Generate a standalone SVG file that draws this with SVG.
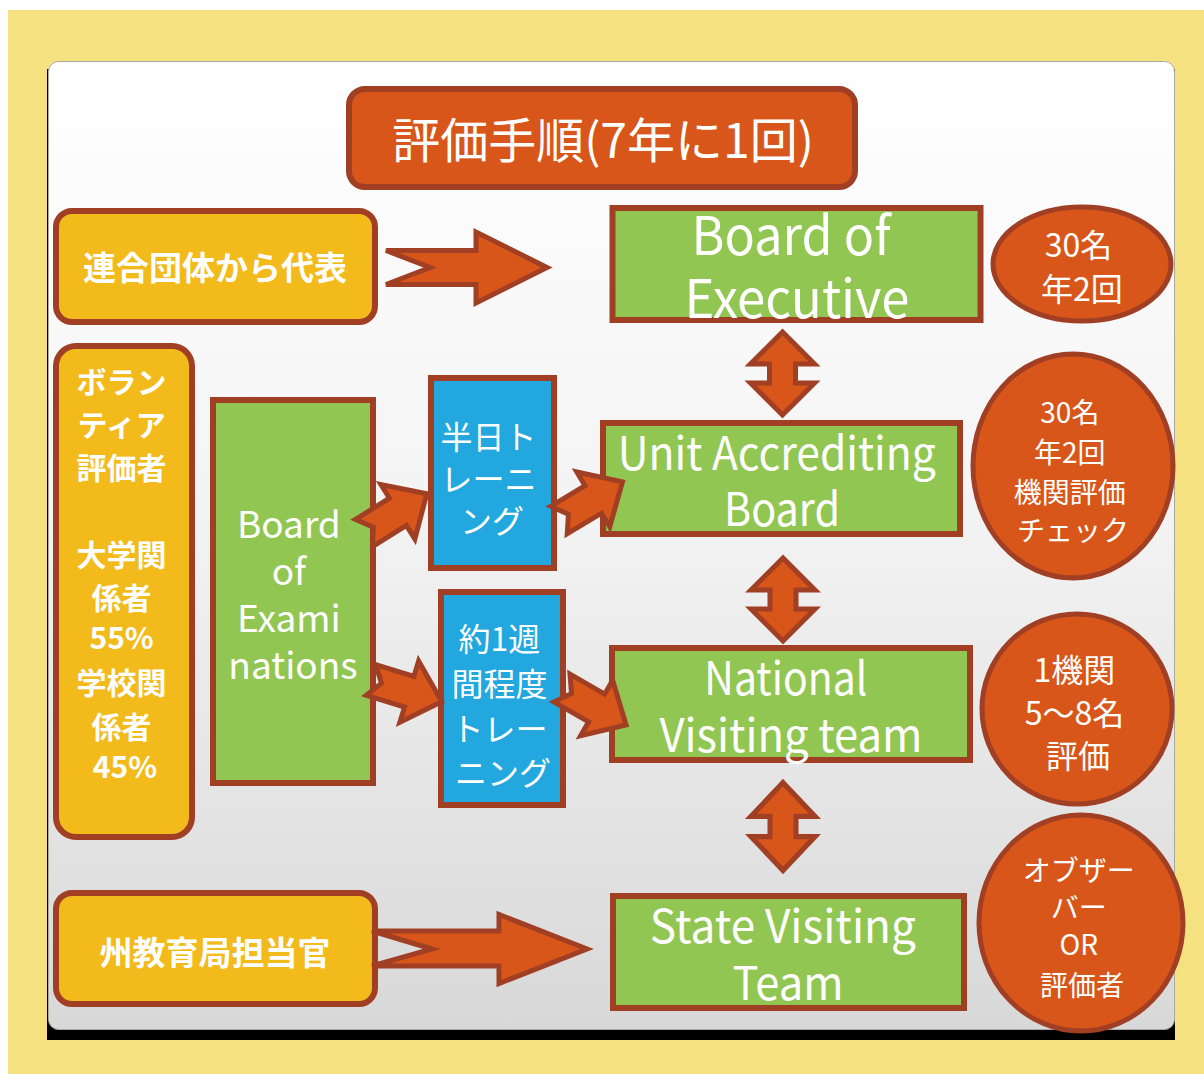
<svg xmlns="http://www.w3.org/2000/svg" width="1204" height="1074" viewBox="0 0 1204 1074">
  <defs>
    <linearGradient id="cardFill" x1="0" y1="0" x2="0" y2="1">
      <stop offset="0" stop-color="#ffffff"/>
      <stop offset="0.45" stop-color="#f4f4f4"/>
      <stop offset="1" stop-color="#d8d8d8"/>
    </linearGradient>
    <!-- notched block arrow pointing along +x, tail at x=0 -->
    <path id="notchSmall" d="M0,-16 L40,-16 L40,-32 L74,0 L40,32 L40,16 L0,16 L11,0 Z"/>
    <!-- vertical double-headed arrow centred on the origin -->
    <path id="dblArrow" d="M0,-41.5 L32,-9.5 L13,-9.5 L13,9.5 L32,9.5 L0,41.5 L-32,9.5 L-13,9.5 L-13,-9.5 L-32,-9.5 Z"/>
  </defs>
  <style>
    text { font-family: "Noto Sans CJK JP", "Noto Sans", sans-serif; fill: #ffffff; text-anchor: middle; }
    .title { font-size: 48px; }
    .bold { font-weight: 700; }
    .orange { fill: #D9561A; stroke: #A13F24; stroke-width: 6; }
    .yellow { fill: #F3BA1B; stroke: #A13F24; stroke-width: 6; }
    .green { fill: #92C653; stroke: #A13F24; stroke-width: 6; }
    .blue { fill: #22A7DF; stroke: #A13F24; stroke-width: 6; }
    .oval { fill: #D9561A; stroke: #A13F24; stroke-width: 5; }
    .arrow { fill: #D9561A; stroke: #A13F24; stroke-width: 5; stroke-linejoin: miter; }
  </style>

  <!-- page background and card -->
  <rect x="0" y="0" width="1204" height="1074" fill="#ffffff"/>
  <rect x="8" y="10" width="1196" height="1064" fill="#F5E180"/>
  <rect x="47" y="69" width="1128" height="971" fill="#000000"/>
  <rect x="48.5" y="61.5" width="1126" height="968" rx="10" fill="url(#cardFill)" stroke="#a8a8a8" stroke-width="1"/>

  <!-- title -->
  <g id="title">
    <rect class="orange" x="349" y="89" width="506" height="98" rx="16"/>
    <text class="title" x="603" y="158">評価手順(7年に1回)</text>
  </g>

  <!-- sources on the left -->
  <g id="federation-reps">
    <rect class="yellow" x="56" y="211" width="319" height="111" rx="16"/>
    <text class="bold" x="215" y="280" font-size="33">連合団体から代表</text>
  </g>
  <g id="volunteer-evaluators">
    <rect class="yellow" x="56" y="346" width="136" height="491" rx="20"/>
    <text class="bold" font-size="30">
      <tspan x="125" y="393">ボラン</tspan>
      <tspan x="125" y="436">ティア</tspan>
      <tspan x="125" y="479">評価者</tspan>
      <tspan x="125" y="566">大学関</tspan>
      <tspan x="125" y="609">係者</tspan>
      <tspan x="125" y="649">55%</tspan>
      <tspan x="125" y="694">学校関</tspan>
      <tspan x="125" y="738">係者</tspan>
      <tspan x="125" y="778">45%</tspan>
    </text>
  </g>
  <g id="state-officer">
    <rect class="yellow" x="56" y="893" width="319" height="111" rx="16"/>
    <text class="bold" x="215" y="965" font-size="33">州教育局担当官</text>
  </g>

  <!-- board of examinations and trainings -->
  <g id="board-of-examinations">
    <rect class="green" x="213" y="400" width="160" height="383"/>
    <text font-size="37">
      <tspan x="293" y="538">Board</tspan>
      <tspan x="293" y="585">of</tspan>
      <tspan x="293" y="632">Exami</tspan>
      <tspan x="293" y="679">nations</tspan>
    </text>
  </g>
  <g id="half-day-training">
    <rect class="blue" x="431" y="378" width="123" height="190"/>
    <text font-size="32">
      <tspan x="492" y="449">半日ト</tspan>
      <tspan x="492" y="491">レーニ</tspan>
      <tspan x="492" y="533">ング</tspan>
    </text>
  </g>
  <g id="week-training">
    <rect class="blue" x="441" y="592" width="122" height="213"/>
    <text font-size="32">
      <tspan x="503" y="651">約1週</tspan>
      <tspan x="503" y="696">間程度</tspan>
      <tspan x="503" y="741">トレー</tspan>
      <tspan x="503" y="785">ニング</tspan>
    </text>
  </g>

  <!-- main bodies -->
  <g id="board-of-executive">
    <rect class="green" x="612.5" y="208" width="368" height="112"/>
    <text font-size="53">
      <tspan x="797" y="255" textLength="199" lengthAdjust="spacingAndGlyphs">Board of</tspan>
      <tspan x="797" y="318" textLength="225" lengthAdjust="spacingAndGlyphs">Executive</tspan>
    </text>
  </g>
  <g id="unit-accrediting-board">
    <rect class="green" x="603" y="423" width="357" height="111"/>
    <text font-size="46">
      <tspan x="782" y="470" textLength="318" lengthAdjust="spacingAndGlyphs">Unit Accrediting</tspan>
      <tspan x="782" y="526" textLength="116" lengthAdjust="spacingAndGlyphs">Board</tspan>
    </text>
  </g>
  <g id="national-visiting-team">
    <rect class="green" x="612" y="648" width="358" height="112"/>
    <text font-size="46">
      <tspan x="791" y="695" textLength="163" lengthAdjust="spacingAndGlyphs">National</tspan>
      <tspan x="791" y="752" textLength="263" lengthAdjust="spacingAndGlyphs">Visiting team</tspan>
    </text>
  </g>
  <g id="state-visiting-team">
    <rect class="green" x="613" y="896" width="351" height="112"/>
    <text font-size="46">
      <tspan x="788" y="943" textLength="266" lengthAdjust="spacingAndGlyphs">State Visiting</tspan>
      <tspan x="788" y="1000" textLength="111" lengthAdjust="spacingAndGlyphs">Team</tspan>
    </text>
  </g>

  <!-- notes on the right -->
  <g id="note-executive">
    <ellipse class="oval" cx="1082" cy="264" rx="89" ry="57"/>
    <text font-size="32">
      <tspan x="1082" y="257">30名</tspan>
      <tspan x="1082" y="301">年2回</tspan>
    </text>
  </g>
  <g id="note-unit">
    <ellipse class="oval" cx="1073" cy="466" rx="100" ry="112"/>
    <text font-size="28">
      <tspan x="1073" y="423">30名</tspan>
      <tspan x="1073" y="463">年2回</tspan>
      <tspan x="1073" y="503">機関評価</tspan>
      <tspan x="1073" y="541">チェック</tspan>
    </text>
  </g>
  <g id="note-national">
    <ellipse class="oval" cx="1077" cy="709" rx="95" ry="95"/>
    <text font-size="32">
      <tspan x="1078" y="682">1機関</tspan>
      <tspan x="1078" y="725">5～8名</tspan>
      <tspan x="1078" y="768">評価</tspan>
    </text>
  </g>
  <g id="note-state">
    <ellipse class="oval" cx="1081" cy="923" rx="102" ry="108"/>
    <text font-size="28">
      <tspan x="1082" y="881">オブザー</tspan>
      <tspan x="1082" y="918">バー</tspan>
      <tspan x="1082" y="955">OR</tspan>
      <tspan x="1082" y="996">評価者</tspan>
    </text>
  </g>

  <!-- connectors -->
  <g id="connectors">
    <path class="arrow" d="M386,250.5 L476,250.5 L476,232 L547,267.5 L476,303 L476,284.5 L386,284.5 L430,267.5 Z"/>
    <path class="arrow" d="M372,931 L499,931 L499,914.5 L587,949 L499,983.5 L499,966 L372,966 L432,949 Z"/>
    <use href="#notchSmall" class="arrow" transform="translate(364,533) rotate(-32)"/>
    <use href="#notchSmall" class="arrow" transform="translate(559,520) rotate(-31)"/>
    <use href="#notchSmall" class="arrow" transform="translate(371,680) rotate(17)"/>
    <use href="#notchSmall" class="arrow" transform="translate(562,688) rotate(30)"/>
    <use href="#dblArrow" class="arrow" transform="translate(782.5,373.5)"/>
    <use href="#dblArrow" class="arrow" transform="translate(783,599.5)"/>
    <use href="#dblArrow" class="arrow" transform="translate(783,826.5) scale(1,1.06)"/>
  </g>
</svg>
